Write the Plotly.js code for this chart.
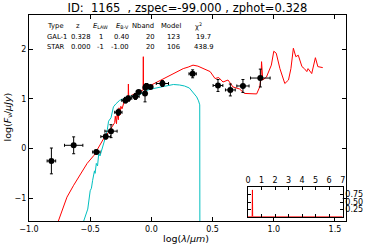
<!DOCTYPE html>
<html><head><meta charset="utf-8">
<script src="https://cdn.plot.ly/plotly-3.0.1.min.js"></script>
<style>html,body{margin:0;padding:0;background:#fff}#plot{width:368px;height:245px}</style>
</head><body><div id="plot"></div>
<script>
// photometry points: log(lambda/um), log(Fnu/uJy) and errors
const obsLogLam = [-0.817,-0.635,-0.45,-0.373,-0.33,-0.27,-0.212,-0.19,-0.13,-0.104,-0.052,-0.049,-0.04,-0.008,0.09,0.337,0.544,0.645,0.748,0.89];
const obsLogF   = [-0.25,0.065,-0.07,0.24,0.35,0.73,0.97,1.01,1.05,1.14,1.11,1.23,1.26,1.24,1.31,1.505,1.27,1.18,1.26,1.42];
const obsXErr   = [0.035,0.075,0.03,0.04,0.05,0.03,0.03,0.03,0.03,0.02,0.01,0.01,0.01,0.02,0.05,0.03,0.04,0.04,0.05,0.08];
const obsYErr   = [0.26,0.17,0.04,0.05,0.13,0.06,0.05,0.05,0.06,0.03,0.17,0.05,0.05,0.03,0.06,0.08,0.12,0.12,0.13,0.18];

// galaxy template (red)
const galLogLam = [-0.76,-0.73,-0.69,-0.635,-0.58,-0.525,-0.47,-0.43,-0.39,-0.35,-0.32,-0.30,-0.295,-0.285,-0.28,-0.27,-0.265,-0.255,-0.25,-0.24,-0.218,-0.2,-0.19,-0.188,-0.185,-0.17,-0.14,-0.11,-0.08,-0.068,-0.066,-0.064,-0.055,-0.03,0.0,0.04,0.08,0.12,0.15,0.19,0.23,0.26,0.30,0.34,0.38,0.41,0.45,0.48,0.52,0.55,0.585,0.626,0.667,0.72,0.76,0.80,0.86,0.885,0.895,0.90,0.905,0.91,0.94,0.98,1.00,1.02,1.05,1.09,1.12,1.14,1.16,1.18,1.20,1.23,1.25,1.27,1.28,1.31,1.34,1.36,1.40];
const galLogF   = [-1.46,-1.25,-0.98,-0.74,-0.51,-0.30,-0.14,0.03,0.20,0.33,0.45,0.52,0.65,0.50,0.72,0.58,0.82,0.68,0.85,0.80,0.98,1.02,0.98,1.30,1.0,1.06,1.10,1.12,1.16,1.18,1.85,1.2,1.21,1.25,1.28,1.33,1.38,1.43,1.47,1.52,1.57,1.61,1.64,1.68,1.66,1.63,1.59,1.55,1.41,1.43,1.34,1.38,1.24,1.20,1.11,1.10,1.10,1.24,1.40,1.75,1.5,1.38,1.44,1.68,1.96,1.92,1.61,1.31,1.38,1.61,2.02,1.85,1.88,1.65,1.61,1.55,1.61,1.51,1.83,1.65,1.63];

// star template (cyan)
const starLogLam = [-0.553,-0.52,-0.50,-0.49,-0.48,-0.47,-0.465,-0.46,-0.45,-0.44,-0.43,-0.42,-0.40,-0.39,-0.375,-0.36,-0.35,-0.33,-0.31,-0.29,-0.26,-0.23,-0.205,-0.16,-0.11,-0.07,-0.028,0.02,0.08,0.13,0.18,0.23,0.27,0.31,0.34,0.37,0.385,0.395,0.396];
const starLogF   = [-1.46,-1.22,-0.85,-0.80,-0.64,-0.55,-0.45,-0.50,-0.30,-0.35,-0.10,-0.15,0.0,0.10,0.23,0.38,0.55,0.62,0.84,0.90,0.97,1.0,1.04,1.06,1.07,1.12,1.18,1.21,1.24,1.27,1.29,1.28,1.26,1.22,1.14,1.04,0.96,0.88,-1.46];

// photo-z probability (inset)
const pdfZ = [0,0.31,0.328,0.345,7];
const pdfP = [0,0,0.91,0,0];

// table
const tableHeader = ['Type','z','<i>E</i><sub>LAW</sub>','<i>E</i><sub>B-V</sub>','Nband','Model','χ<sup>2</sup>'];
const tableRow1 = ['GAL-1','0.328','1','0.40','20','123','19.7'];
const tableRow2 = ['STAR','0.000','-1','-1.00','20','106','438.9'];

const xTicks = [-1.0,-0.5,0.0,0.5,1.0,1.5];
const yTicks = [-1,0,1,2];
const insetTicks = [0.25,0.5,0.75];
const insetTickText = ['0.25','0.50','0.75'];

const L=29, T=15, W=317, H=206;
const px = v => (v-L)/W;
const py = v => (T+H-v)/H;
const FONT = 'DejaVu Sans, sans-serif';

const traces = [
  {x: galLogLam, y: galLogF, type:'scatter', mode:'lines', line:{color:'#ff0000', width:1}, hoverinfo:'skip'},
  {x: starLogLam, y: starLogF, type:'scatter', mode:'lines', line:{color:'#00bfbf', width:1}, hoverinfo:'skip'},
  {x: obsLogLam, y: obsLogF, type:'scatter', mode:'markers',
   marker:{color:'#000', size:6},
   error_x:{type:'data', array: obsXErr, color:'#000', thickness:1, width:1.5},
   error_y:{type:'data', array: obsYErr, color:'#000', thickness:1, width:1.5}},
  {x: pdfZ, y: pdfP, xaxis:'x2', yaxis:'y2', type:'scatter', mode:'lines', line:{color:'#ff0000', width:1}}
];

const colX = [
  {h:[45,'left'], v:[45,'left']},
  {h:[78,'center'], v:[80,'center']},
  {h:[100,'center'], v:[100.5,'center']},
  {h:[122,'center'], v:[130.5,'right']},
  {h:[142.7,'center'], v:[156.7,'right']},
  {h:[171.5,'center'], v:[181.7,'right']},
  {h:[198,'center'], v:[203,'center']}
];
const rowY = [26.3, 36.8, 47.3];
const ann = [];
[tableHeader, tableRow1, tableRow2].forEach((row, r) => {
  row.forEach((t, c) => {
    const spec = r===0 ? colX[c].h : colX[c].v;
    ann.push({text:t, xref:'paper', yref:'paper', x:px(spec[0]), y:py(rowY[r]),
      xanchor:spec[1], yanchor:'middle', showarrow:false, font:{family:FONT, size:6.8, color:'#000'}});
  });
});
ann.push({text:'log(<i>F</i><sub>ν</sub>/<i>μJy</i>)', xref:'paper', yref:'paper', x:px(8), y:py(117.5),
  xanchor:'center', yanchor:'middle', textangle:-90, showarrow:false, font:{family:FONT, size:9.5, color:'#000'}});
ann.push({text:'log(<i>λ</i>/<i>μm</i>)', xref:'paper', yref:'paper', x:px(186), y:py(238),
  xanchor:'center', yanchor:'middle', showarrow:false, font:{family:FONT, size:9.5, color:'#000'}});

const axBase = {showgrid:false, zeroline:false, showline:true, linecolor:'#000', linewidth:1,
  ticks:'inside', tickcolor:'#000', mirror:'allticks', tickfont:{family:FONT, size:8, color:'#000'}};

const layout = {
  width:368, height:245,
  margin:{l:L, r:368-L-W, t:T, b:245-T-H, pad:0},
  paper_bgcolor:'#fff', plot_bgcolor:'#fff', showlegend:false,
  title:{text:'ID:\u00a0 1165\u00a0 , zspec=-99.000 , zphot=0.328', x:0.5, xref:'paper', y:1-8/245, yanchor:'middle',
    font:{family:FONT, size:11.5, color:'#000'}},
  xaxis: Object.assign({}, axBase, {range:[-1.0,1.59], tickvals:xTicks, tickformat:'.1f', ticklen:4, domain:[0,1]}),
  yaxis: Object.assign({}, axBase, {range:[-1.46,2.69], tickvals:yTicks, ticklen:4, domain:[0,1]}),
  xaxis2: Object.assign({}, axBase, {anchor:'y2', side:'top', domain:[px(248),px(342.7)], range:[0,7], dtick:1, ticklen:3,
    tickfont:{family:FONT, size:8, color:'#000'}}),
  yaxis2: Object.assign({}, axBase, {anchor:'x2', side:'right', domain:[py(216.7),py(187.3)], range:[0,1],
    tickvals:insetTicks, ticktext:insetTickText, ticklen:3, tickfont:{family:FONT, size:8, color:'#000'}}),
  shapes:[{type:'rect', xref:'paper', yref:'paper', x0:px(248), x1:px(342.7), y0:py(216.7), y1:py(187.3),
    fillcolor:'#fff', line:{width:0}, layer:'below'}],
  annotations: ann
};
Plotly.newPlot('plot', traces, layout, {displayModeBar:false, staticPlot:true});
</script></body></html>
